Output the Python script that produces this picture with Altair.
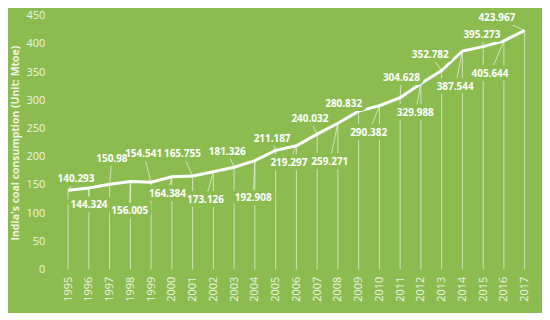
import altair as alt
import pandas as pd

years = list(range(1995, 2018))
coal = [140.293, 144.324, 150.982, 156.005, 154.541, 164.384, 165.755, 173.126,
        181.326, 192.908, 211.187, 219.297, 240.032, 259.271, 280.832, 290.382,
        304.628, 329.988, 352.782, 387.544, 395.273, 405.644, 423.967]
# label anchor positions in data units (year, Mtoe)
label_year = [1995.38, 1996.01, 1997.11, 1997.97, 1998.64, 1999.79, 2000.51, 2001.62,
              2002.67, 2003.92, 2004.83, 2005.64, 2006.65, 2007.61, 2008.28, 2009.48,
              2011.06, 2011.73, 2012.45, 2013.65, 2014.94, 2015.33, 2015.66]
label_value = [161.1, 113.8, 196.1, 103.3, 204.9, 133.1, 204.9, 122.6,
               208.4, 126.1, 231.1, 189.1, 266.2, 190.9, 294.2, 241.6,
               339.7, 276.7, 380.0, 323.9, 416.7, 346.7, 446.0]
labels = [f"{v:.3f}" for v in coal]
labels[2] = "150.98"  # partially hidden in the reference

GREEN = "#8CBC50"
LIGHT = "#EEF5E6"
FONT = "Open Sans"

df = pd.DataFrame({"year": years, "coal": coal, "label": labels,
                   "lx": label_year, "ly": label_value})

xscale = alt.Scale(domain=[1994.5, 2017.5], nice=False, zero=False)
yscale = alt.Scale(domain=[0, 450], nice=False)

xaxis = alt.Axis(values=years, format="d", labelAngle=-90, ticks=False,
                 domain=False, grid=False, labelPadding=7, title=None,
                 labelOverlap=False, labelBound=False,
                 labelColor=LIGHT, labelFont=FONT, labelFontSize=11)
yaxis = alt.Axis(values=list(range(0, 451, 50)), ticks=False, domain=False,
                 grid=False, labelPadding=13, labelColor=LIGHT, labelFont=FONT,
                 labelFontSize=11, labelOverlap=False, labelBound=False,
                 title="India's coal consumption (Unit: Mtoe)",
                 titleColor=LIGHT, titleFont=FONT, titleFontSize=10.5,
                 titleFontWeight="bold", titleX=-42, titleBaseline="middle")

x = alt.X("year:Q", scale=xscale, axis=xaxis)
y = alt.Y("coal:Q", scale=yscale, axis=yaxis)
lx = alt.X("lx:Q", scale=xscale, axis=xaxis)
ly = alt.Y("ly:Q", scale=yscale, axis=yaxis)

base = alt.Chart(df)

drops = base.mark_rule(color="white", opacity=0.6, strokeWidth=1).encode(
    x=x, y=y, y2=alt.datum(0))

leaders = base.mark_rule(color="white", opacity=0.6, strokeWidth=1).encode(
    x=lx, y=ly, x2="year:Q", y2="coal:Q")

line = base.mark_line(color="white", strokeWidth=3).encode(x=x, y=y)

halo = base.mark_text(font=FONT, fontSize=10, fontWeight="bold", color=GREEN,
                      stroke=GREEN, strokeWidth=8, strokeJoin="round",
                      baseline="middle").encode(x=lx, y=ly, text="label:N")

text = base.mark_text(font=FONT, fontSize=10, fontWeight="bold", color="white",
                      baseline="middle").encode(x=lx, y=ly, text="label:N")

chart = alt.layer(drops, leaders, line, halo, text).properties(
    width=480, height=255,
    background=GREEN,
    padding={"left": 50, "top": 7, "right": 7, "bottom": 43},
    autosize=alt.AutoSizeParams(type="none"),
).configure_view(stroke=None)

chart.save("out.html", embed_options={"renderer": "svg", "actions": False})
